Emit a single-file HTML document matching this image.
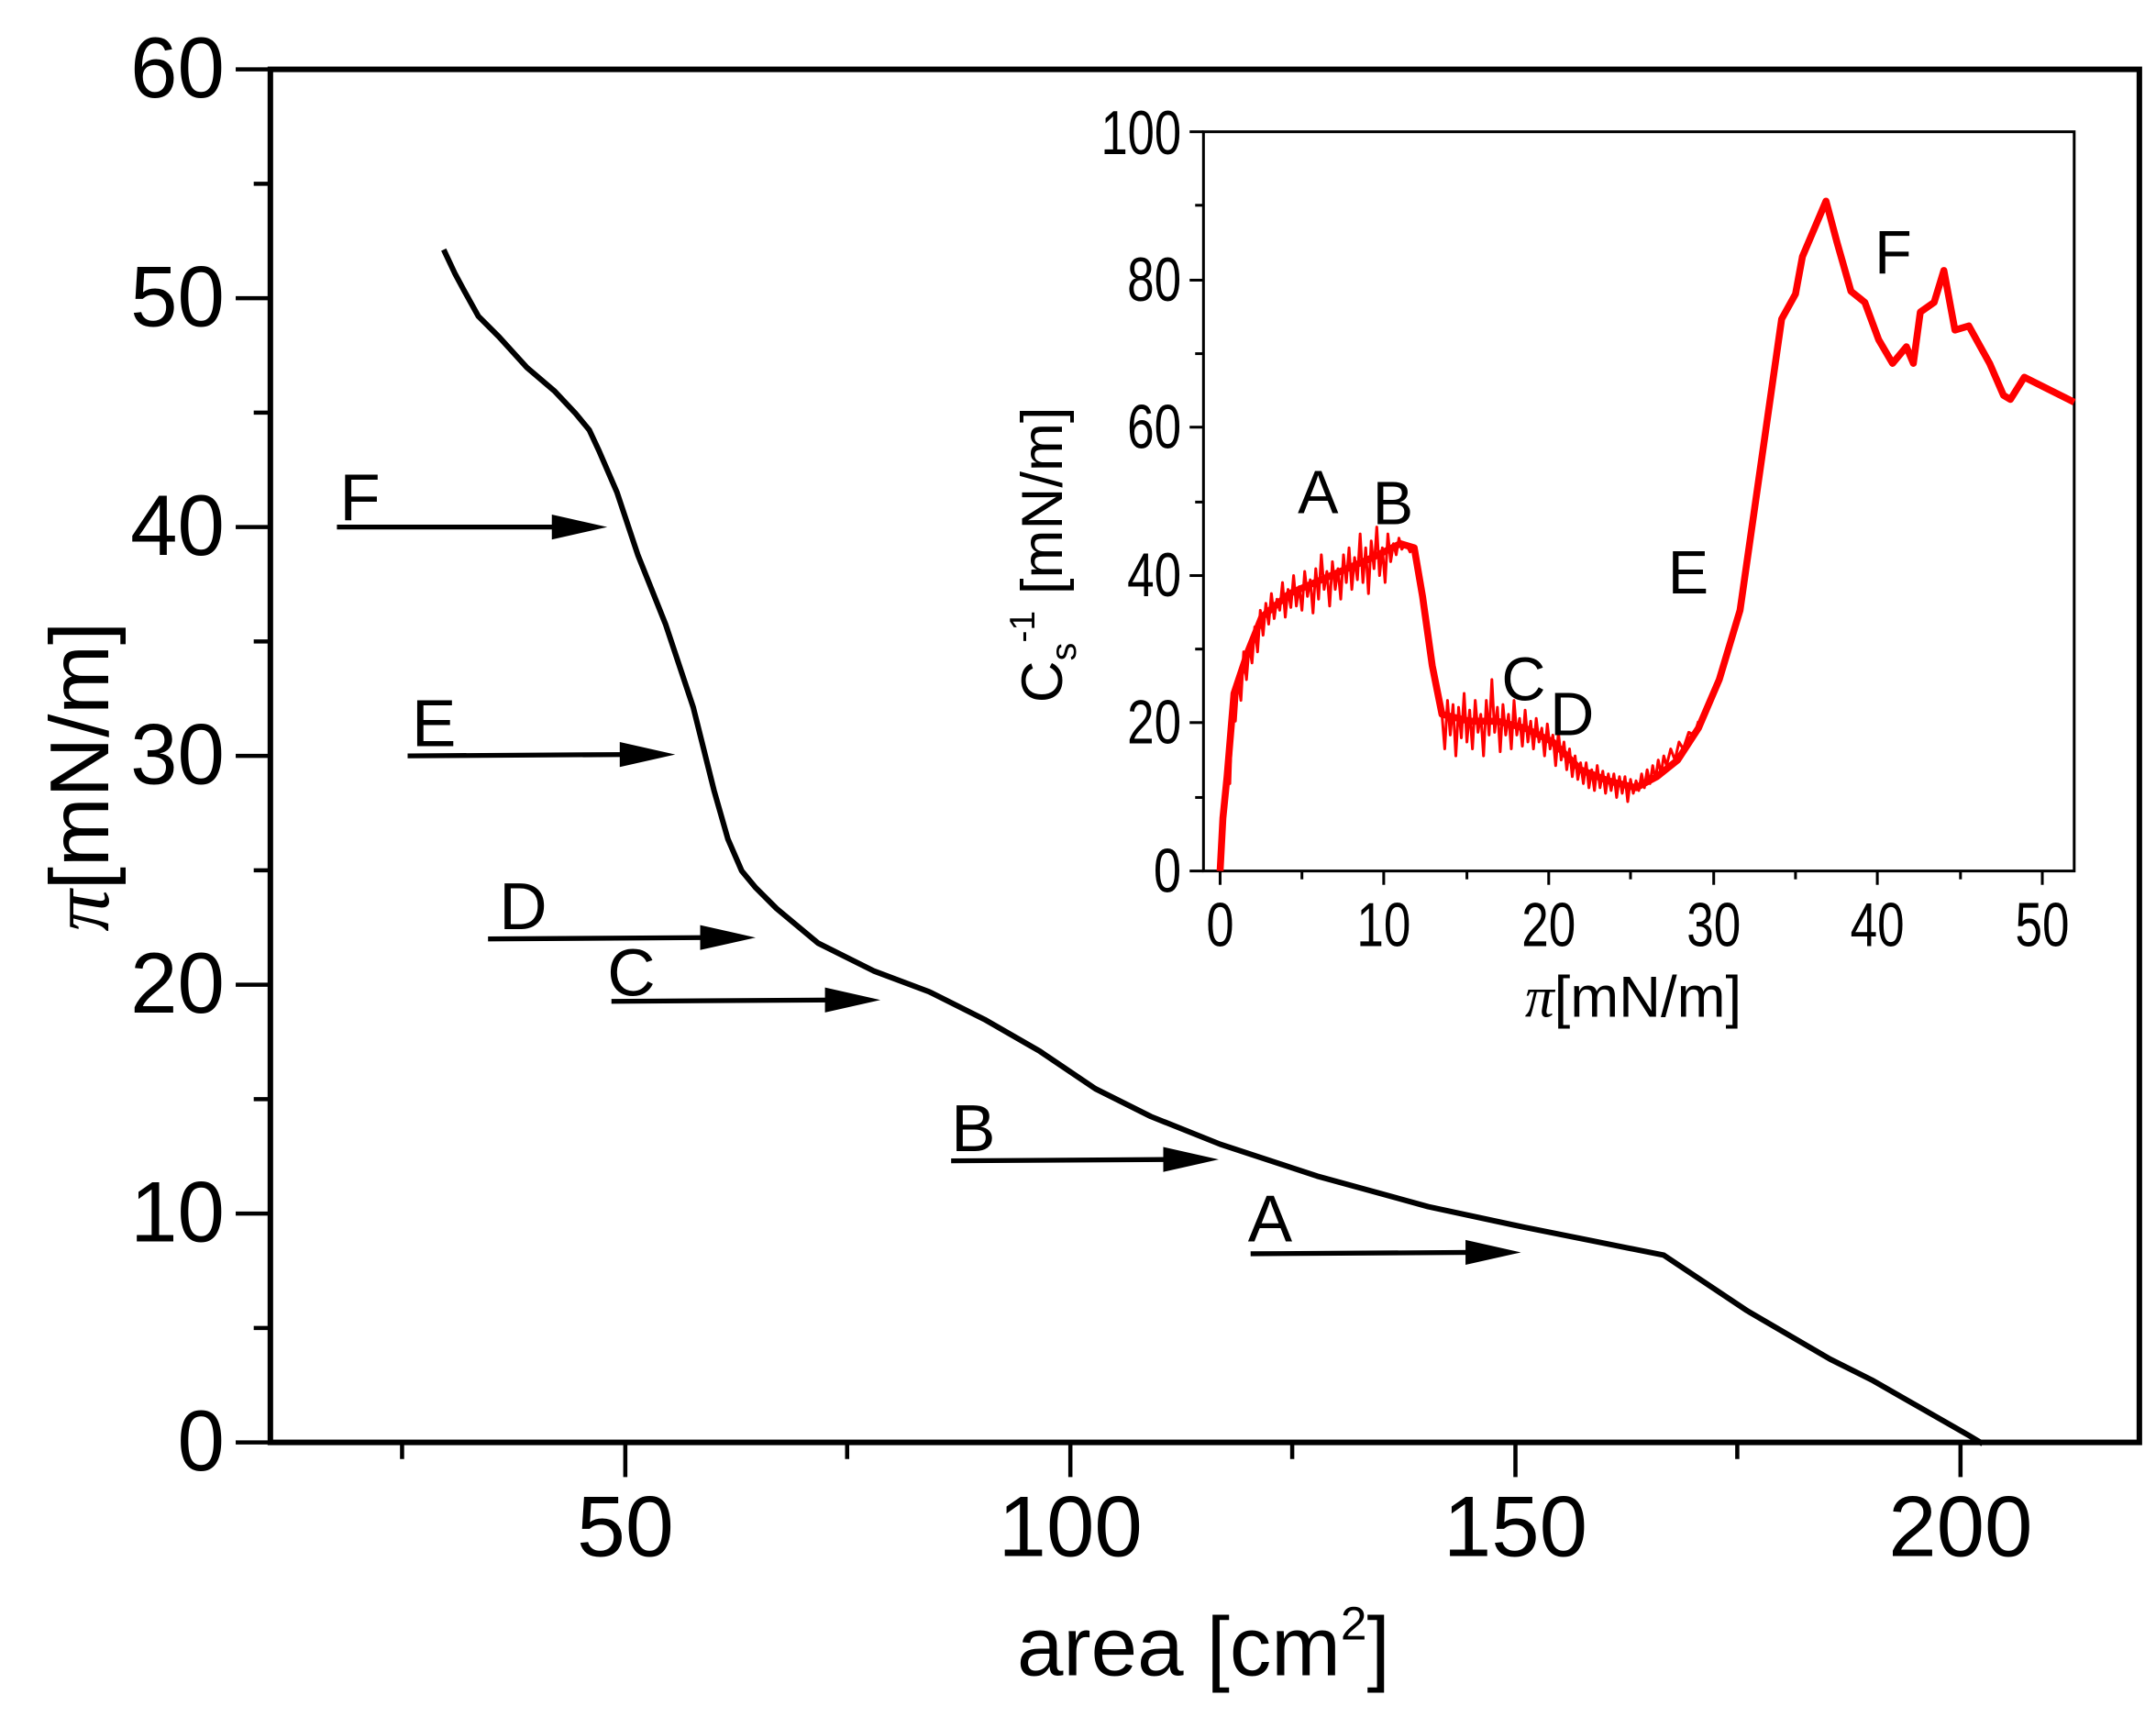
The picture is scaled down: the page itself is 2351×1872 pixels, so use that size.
<!DOCTYPE html>
<html><head><meta charset="utf-8"><style>
html,body{margin:0;padding:0;background:#fff;}
svg{display:block;}
text{font-family:"Liberation Sans",Arial,sans-serif;fill:#000;}
</style></head><body>
<svg width="2351" height="1872" viewBox="0 0 1555 1238" preserveAspectRatio="none" xmlns="http://www.w3.org/2000/svg">
<rect x="195" y="50" width="1348" height="990" fill="none" stroke="#000" stroke-width="4"/>
<g stroke="#000" stroke-width="3">
<line x1="170" y1="50" x2="195" y2="50"/>
<line x1="170" y1="215" x2="195" y2="215"/>
<line x1="170" y1="380" x2="195" y2="380"/>
<line x1="170" y1="545" x2="195" y2="545"/>
<line x1="170" y1="710" x2="195" y2="710"/>
<line x1="170" y1="875" x2="195" y2="875"/>
<line x1="170" y1="1040" x2="195" y2="1040"/>
<line x1="183" y1="132.5" x2="195" y2="132.5"/>
<line x1="183" y1="297.5" x2="195" y2="297.5"/>
<line x1="183" y1="462.5" x2="195" y2="462.5"/>
<line x1="183" y1="627.5" x2="195" y2="627.5"/>
<line x1="183" y1="792.5" x2="195" y2="792.5"/>
<line x1="183" y1="957.5" x2="195" y2="957.5"/>
<line x1="451" y1="1040" x2="451" y2="1065"/>
<line x1="772" y1="1040" x2="772" y2="1065"/>
<line x1="1093" y1="1040" x2="1093" y2="1065"/>
<line x1="1414" y1="1040" x2="1414" y2="1065"/>
<line x1="290" y1="1040" x2="290" y2="1052"/>
<line x1="611" y1="1040" x2="611" y2="1052"/>
<line x1="932" y1="1040" x2="932" y2="1052"/>
<line x1="1253" y1="1040" x2="1253" y2="1052"/>
</g>
<g font-size="62" text-anchor="end">
<text x="162" y="70" textLength="68" lengthAdjust="spacingAndGlyphs">60</text>
<text x="162" y="235" textLength="68" lengthAdjust="spacingAndGlyphs">50</text>
<text x="162" y="400" textLength="68" lengthAdjust="spacingAndGlyphs">40</text>
<text x="162" y="565" textLength="68" lengthAdjust="spacingAndGlyphs">30</text>
<text x="162" y="730" textLength="68" lengthAdjust="spacingAndGlyphs">20</text>
<text x="162" y="895" textLength="68" lengthAdjust="spacingAndGlyphs">10</text>
<text x="162" y="1060" textLength="34" lengthAdjust="spacingAndGlyphs">0</text>
</g>
<g font-size="62" text-anchor="middle">
<text x="451" y="1122" textLength="70" lengthAdjust="spacingAndGlyphs">50</text>
<text x="772" y="1122" textLength="104" lengthAdjust="spacingAndGlyphs">100</text>
<text x="1093" y="1122" textLength="104" lengthAdjust="spacingAndGlyphs">150</text>
<text x="1414" y="1122" textLength="104" lengthAdjust="spacingAndGlyphs">200</text>
</g>
<text x="868" y="1208" font-size="60" text-anchor="middle">area [cm<tspan font-size="34" dy="-26">2</tspan><tspan dy="26">]</tspan></text>
<text transform="translate(78,560) rotate(-90)" font-size="60" text-anchor="middle"><tspan font-family="Liberation Serif" font-style="italic">π</tspan>[mN/m]</text>

<polyline fill="none" stroke="#000" stroke-width="4" stroke-linejoin="round" points="320,180 328,197 335,210 345,228 360,243 380,265 400,282 415,298 425,310 432,325 445,355 460,400 480,450 500,510 515,570 525,605 535,628 545,640 560,655 590,680 630,700 670,715 710,735 750,758 790,785 830,805 880,825 950,848 1030,870 1100,885 1150,895 1200,905 1215,915 1260,945 1320,980 1350,995 1385,1015 1420,1035 1430,1041"/>

<g stroke="#000" stroke-width="3.5">
<line x1="243" y1="380" x2="405" y2="380"/>
<line x1="294" y1="545" x2="455" y2="544"/>
<line x1="352" y1="677" x2="512" y2="676"/>
<line x1="441" y1="722" x2="602" y2="721"/>
<line x1="686" y1="837" x2="846" y2="836"/>
<line x1="902" y1="904" x2="1064" y2="903"/>
</g>
<g fill="#000">
<polygon points="438,380 398,371 398,389"/>
<polygon points="487,544 447,535 447,553"/>
<polygon points="545,676 505,667 505,685"/>
<polygon points="635,721 595,712 595,730"/>
<polygon points="879,836 839,827 839,845"/>
<polygon points="1097,903 1057,894 1057,912"/>
</g>
<g font-size="48">
<text x="245" y="375">F</text>
<text x="297" y="538">E</text>
<text x="360" y="670">D</text>
<text x="438" y="718">C</text>
<text x="686" y="830">B</text>
<text x="900" y="895">A</text>
</g>

<!-- inset -->
<rect x="868" y="95" width="628" height="533" fill="none" stroke="#000" stroke-width="2"/>
<g stroke="#000" stroke-width="2">
<line x1="858" y1="95" x2="868" y2="95"/>
<line x1="858" y1="202" x2="868" y2="202"/>
<line x1="858" y1="308" x2="868" y2="308"/>
<line x1="858" y1="415" x2="868" y2="415"/>
<line x1="858" y1="521" x2="868" y2="521"/>
<line x1="858" y1="628" x2="868" y2="628"/>
<line x1="862" y1="148" x2="868" y2="148"/>
<line x1="862" y1="255" x2="868" y2="255"/>
<line x1="862" y1="362" x2="868" y2="362"/>
<line x1="862" y1="468" x2="868" y2="468"/>
<line x1="862" y1="575" x2="868" y2="575"/>
<line x1="880" y1="628" x2="880" y2="638"/>
<line x1="998" y1="628" x2="998" y2="638"/>
<line x1="1117" y1="628" x2="1117" y2="638"/>
<line x1="1236" y1="628" x2="1236" y2="638"/>
<line x1="1354" y1="628" x2="1354" y2="638"/>
<line x1="1473" y1="628" x2="1473" y2="638"/>
<line x1="939" y1="628" x2="939" y2="634"/>
<line x1="1058" y1="628" x2="1058" y2="634"/>
<line x1="1176" y1="628" x2="1176" y2="634"/>
<line x1="1295" y1="628" x2="1295" y2="634"/>
<line x1="1414" y1="628" x2="1414" y2="634"/>
</g>
<g font-size="45" text-anchor="end">
<text x="852" y="111" textLength="58" lengthAdjust="spacingAndGlyphs">100</text>
<text x="852" y="217" textLength="39" lengthAdjust="spacingAndGlyphs">80</text>
<text x="852" y="323" textLength="39" lengthAdjust="spacingAndGlyphs">60</text>
<text x="852" y="430" textLength="39" lengthAdjust="spacingAndGlyphs">40</text>
<text x="852" y="536" textLength="39" lengthAdjust="spacingAndGlyphs">20</text>
<text x="852" y="643" textLength="20" lengthAdjust="spacingAndGlyphs">0</text>
</g>
<g font-size="45" text-anchor="middle">
<text x="880" y="682" textLength="20" lengthAdjust="spacingAndGlyphs">0</text>
<text x="998" y="682" textLength="39" lengthAdjust="spacingAndGlyphs">10</text>
<text x="1117" y="682" textLength="39" lengthAdjust="spacingAndGlyphs">20</text>
<text x="1236" y="682" textLength="39" lengthAdjust="spacingAndGlyphs">30</text>
<text x="1354" y="682" textLength="39" lengthAdjust="spacingAndGlyphs">40</text>
<text x="1473" y="682" textLength="39" lengthAdjust="spacingAndGlyphs">50</text>
</g>
<text x="1178" y="733" font-size="42" text-anchor="middle"><tspan font-family="Liberation Serif" font-style="italic">π</tspan>[mN/m]</text>
<text transform="translate(766,400) rotate(-90)" font-size="42" text-anchor="middle">C<tspan font-size="26" dy="10">s</tspan><tspan font-size="26" dy="-30">-1</tspan><tspan dy="20"> [mN/m]</tspan></text>

<polyline fill="none" stroke="#f00" stroke-width="5" stroke-linejoin="round" points="880,628 882,590 885,560 890,500 900,470 910,445 930,428 960,415 990,402 1010,392 1020,395 1026,430 1033,480 1040,515 1060,520 1080,520 1100,525 1120,535 1140,555 1160,563 1180,568 1195,560 1210,548 1225,525 1240,490 1255,440 1265,370 1275,300 1285,230 1295,212 1300,185 1317,145 1325,175 1335,210 1345,218 1355,245 1365,262 1375,250 1380,262 1385,225 1395,218 1402,195 1410,238 1420,235 1435,262 1445,285 1450,288 1460,272 1496,290"/>
<polyline fill="none" stroke="#f00" stroke-width="2" stroke-linejoin="round" points="886,545 887,565 889,505 891,520 893,490 895,505 897,470 899,490 901,465 903,478 905,452 907,470 909,440 911,458 913,435 915,450 917,428 919,446 921,432 923,440 925,420 927,445 929,425 931,438 933,415 935,437 937,423 939,440 941,412 943,430 945,418 947,442 949,410 951,432 953,400 955,425 957,412 959,437 961,405 963,425 965,410 967,432 969,400 971,420 973,395 975,425 977,402 979,418 981,385 983,420 985,395 987,428 989,390 991,410 993,380 995,415 997,395 999,420 1001,385 1003,405 1005,392 1007,400 1009,388 1011,396 1014,392 1017,398 1020,395"/>
<polyline fill="none" stroke="#f00" stroke-width="2" stroke-linejoin="round" points="1040,515 1042,540 1044,505 1046,530 1048,508 1050,545 1052,510 1054,532 1056,500 1058,535 1060,512 1062,540 1064,505 1066,528 1068,515 1070,545 1072,505 1074,530 1076,490 1078,528 1080,510 1082,542 1084,508 1086,530 1088,515 1090,540 1092,505 1094,530 1096,518 1098,538 1100,512 1102,535 1104,520 1106,540 1108,518 1110,535 1112,525 1114,545 1116,522 1118,540 1120,530 1122,552 1124,528 1126,548 1128,535 1130,555 1132,540 1134,560 1136,545 1138,562 1140,550 1142,565 1144,550 1146,568 1148,555 1150,570 1152,552 1154,568 1156,556 1158,572 1160,558 1162,570 1164,558 1166,575 1168,560 1170,572 1172,560 1174,578 1176,562 1178,572 1180,563 1182,570 1184,558 1186,568 1188,555 1190,565 1192,552 1194,562 1196,548 1198,558 1200,545 1202,552 1205,540 1208,548 1211,535 1214,540 1218,528 1222,530 1225,520"/>
<g font-size="44">
<text x="936" y="370">A</text>
<text x="990" y="378">B</text>
<text x="1083" y="505">C</text>
<text x="1118" y="530">D</text>
<text x="1203" y="428">E</text>
<text x="1352" y="197">F</text>
</g>
</svg>
</body></html>
